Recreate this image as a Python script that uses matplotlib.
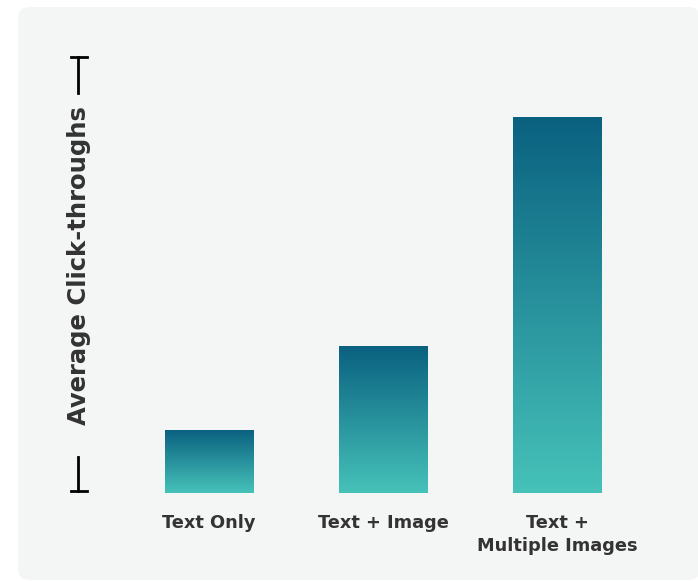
import numpy as np
import matplotlib
matplotlib.use("Agg")
import matplotlib.pyplot as plt
from matplotlib.patches import FancyBboxPatch
from matplotlib.lines import Line2D
from matplotlib.colors import LinearSegmentedColormap

# Relative average click-throughs per post format
categories = ["Text Only", "Text + Image", "Text +\nMultiple Images"]
values = [1.0, 2.35, 6.05]
y_label = "Average Click-throughs"

TOP_COLOR = "#0a6180"
BOTTOM_COLOR = "#46c2b9"
PANEL_COLOR = "#f4f6f5"
TEXT_COLOR = "#333333"
FONT = ["DejaVu Sans"]

W, H = 698, 581
fig = plt.figure(figsize=(W / 100, H / 100), dpi=100, facecolor="white")

def fx(px):
    return px / W

def fy(py):
    return 1 - py / H

# Rounded light panel behind the chart
panel = FancyBboxPatch((fx(18), fy(580)), fx(700) - fx(18), fy(7) - fy(580),
                       boxstyle="round,pad=0,rounding_size=0.018",
                       transform=fig.transFigure, facecolor=PANEL_COLOR,
                       edgecolor="none", zorder=-5)
fig.patches.append(panel)

ax = fig.add_axes([fx(120), fy(493), fx(650) - fx(120), fy(58) - fy(493)])
ax.set_facecolor("none")
ax.set_zorder(2)
for s in ax.spines.values():
    s.set_visible(False)

x = np.arange(len(categories))
bar_w = 0.506
bars = ax.bar(x, values, width=bar_w, facecolor="none", edgecolor="none")

cmap = LinearSegmentedColormap.from_list("teal", [BOTTOM_COLOR, TOP_COLOR])
grad = np.linspace(0, 1, 256).reshape(-1, 1)
for b in bars:
    x0, w, h = b.get_x(), b.get_width(), b.get_height()
    ax.imshow(grad, cmap=cmap, origin="lower", aspect="auto",
              extent=(x0, x0 + w, 0, h), interpolation="bicubic", zorder=2)

ax.set_xlim(-0.511, 2.534)
ax.set_ylim(0, 7)
ax.set_yticks([])
ax.set_xticks(x)
ax.set_xticklabels(categories, fontsize=12.8, fontweight="bold",
                   color=TEXT_COLOR, family=FONT, linespacing=1.35)
ax.tick_params(axis="x", length=0, pad=15)

# Y axis drawn as a capped line broken around the label
axis_x = fx(78)
lw = 2.0
for y0, y1 in [(57, 93), (457, 491)]:
    fig.add_artist(Line2D([axis_x, axis_x], [fy(y0), fy(y1)], color="black",
                          lw=lw, transform=fig.transFigure))
for yc in (57, 491):
    fig.add_artist(Line2D([fx(71), fx(87)], [fy(yc), fy(yc)], color="black",
                          lw=lw, transform=fig.transFigure))
fig.text(fx(79), fy(266), y_label, rotation=90, ha="center", va="center",
         fontsize=17.5, fontweight="bold", color=TEXT_COLOR, family=FONT)

fig.savefig("out.png", dpi=100, facecolor="white")
